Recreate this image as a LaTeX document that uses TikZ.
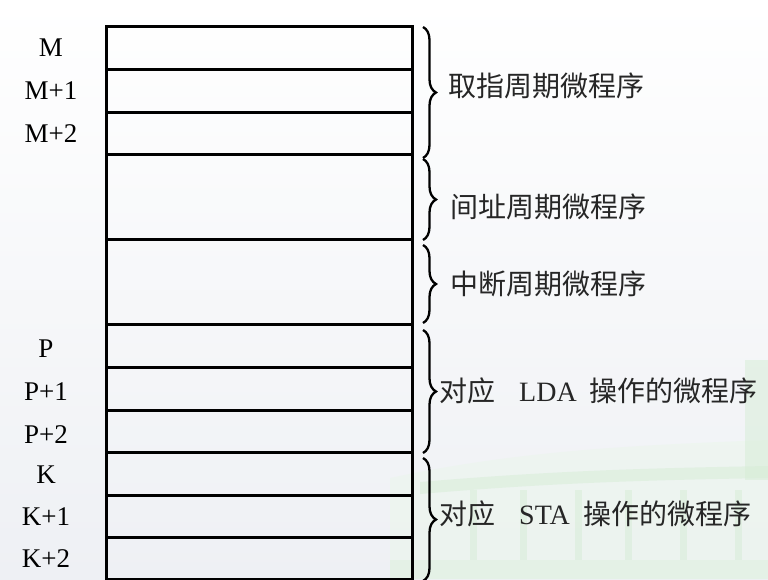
\documentclass[tikz,border=0pt]{standalone}
\usepackage{fontspec}
\setmainfont{Liberation Serif}
\newfontfamily\cjk{Noto Sans CJK SC}
\usetikzlibrary{decorations.pathreplacing,calc}
\definecolor{bgtop}{HTML}{FFFFFF}
\definecolor{bgbot}{HTML}{EEF0F4}
\definecolor{bldg}{HTML}{D6EDD6}
\begin{document}
\begin{tikzpicture}[x=1pt,y=-1pt,
  cell/.style={draw=black, line width=3pt, minimum width=306pt, inner sep=0pt, anchor=north west},
  lab/.style={font=\fontsize{27}{27}\selectfont, inner sep=0pt},
  txt/.style={font=\fontsize{28}{28}\selectfont\cjk, inner sep=0pt, anchor=west, text=black!85},
  brc/.style={decorate, decoration={brace, amplitude=13pt}, line width=2.3pt}]
\useasboundingbox (0,0) rectangle (768,579);
% background
\shade[top color=bgtop, bottom color=bgbot] (0,0) rectangle (768,579);
% faint building in lower right
\begin{scope}[opacity=0.5]
\fill[bldg!50] (390,478) .. controls (520,450) and (640,445) .. (768,440) -- (768,579) -- (390,579) -- cycle;
\fill[bldg] (420,482) .. controls (560,470) and (660,468) .. (768,466) -- (768,478) .. controls (660,480) and (560,482) .. (420,494) -- cycle;
\foreach \xx in {470,520,575,625,680,735}{\fill[bldg] (\xx,490) rectangle (\xx+7,560);}
\fill[bldg] (745,360) rectangle (768,480);
\fill[bldg!80] (390,560) rectangle (768,579);
\end{scope}
% memory rows
\node[cell, minimum height=43pt]   (r1)  at (105,25)    {};
\node[cell, minimum height=42.5pt] (r2)  at (105,68)    {};
\node[cell, minimum height=42.5pt] (r3)  at (105,110.5) {};
\node[cell, minimum height=85pt]   (r4)  at (105,153)   {};
\node[cell, minimum height=85pt]   (r5)  at (105,238)   {};
\node[cell, minimum height=43pt]   (r6)  at (105,323)   {};
\node[cell, minimum height=42.5pt] (r7)  at (105,366)   {};
\node[cell, minimum height=42.5pt] (r8)  at (105,408.5) {};
\node[cell, minimum height=43pt]   (r9)  at (105,451)   {};
\node[cell, minimum height=42pt]   (r10) at (105,494)   {};
\node[cell, minimum height=42pt]   (r11) at (105,536)   {};
% address labels
\node[lab] (lM)  at ([xshift=-54pt]r1.west)  {M};
\node[lab] (lM1) at ([xshift=-54pt]r2.west)  {M+1};
\node[lab] (lM2) at ([xshift=-54pt]r3.west)  {M+2};
\node[lab] (lP)  at ([xshift=-59pt,yshift=-3pt]r6.west)  {P};
\node[lab] (lP1) at ([xshift=-59pt,yshift=-3pt]r7.west)  {P+1};
\node[lab] (lP2) at ([xshift=-59pt,yshift=-3pt]r8.west)  {P+2};
\node[lab] (lK)  at ([xshift=-59pt,yshift=-1pt]r9.west)  {K};
\node[lab] (lK1) at ([xshift=-59pt]r10.west) {K+1};
\node[lab] (lK2) at ([xshift=-59pt]r11.west) {K+2};
% braces
\draw[brc] ([xshift=9pt,yshift=-2pt]r1.north east) -- ([xshift=9pt,yshift=-2pt]r3.south east);
\draw[brc] ([xshift=9pt,yshift=-6pt]r4.north east) -- ([xshift=9pt,yshift=1pt]r4.south east);
\draw[brc] ([xshift=9pt,yshift=-7pt]r5.north east) -- ([xshift=9pt,yshift=3pt]r5.south east);
\draw[brc] ([xshift=9pt,yshift=-7pt]r6.north east) -- ([xshift=9pt,yshift=1pt]r8.south east);
\draw[brc] ([xshift=9pt,yshift=-7pt]r9.north east) -- ([xshift=9pt,yshift=0pt]r11.south east);
% texts
\node[txt] (t1) at (448,86)  {取指周期微程序};
\node[txt] (t2) at (450,207) {间址周期微程序};
\node[txt] (t3) at (450,284) {中断周期微程序};
\node[txt] (t4) at (439,391) {对应\hspace{24pt}{\rmfamily LDA}\hspace{13pt}操作的微程序};
\node[txt] (t5) at (439,514) {对应\hspace{24pt}{\rmfamily STA}\hspace{14pt}操作的微程序};
\end{tikzpicture}
\end{document}
